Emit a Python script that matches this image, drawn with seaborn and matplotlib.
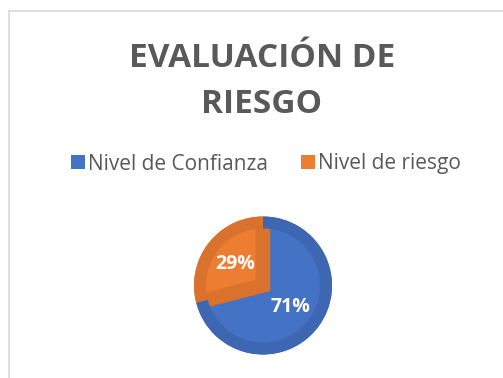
import matplotlib
matplotlib.use("Agg")
import matplotlib.pyplot as plt
from matplotlib.patches import Patch, Rectangle
import seaborn as sns

# Data
categories = ["Nivel de Confianza", "Nivel de riesgo"]
values = [71, 29]
title_lines = ["EVALUACIÓN DE", "RIESGO"]

# Face colours and darker rim colours for the bevelled look
face_colors = ["#4472C4", "#ED7D31"]
rim_colors = ["#3D67B3", "#D9722D"]
text_gray = "#595959"

sns.set_theme(style="white")
plt.rcParams["font.family"] = ["Open Sans", "DejaVu Sans"]

W, H = 503, 378
DPI = 100
fig = plt.figure(figsize=(W / DPI, H / DPI), dpi=DPI)
fig.patch.set_facecolor("white")


def fx(px):
    return px / W


def fy(py):
    return 1 - py / H


# Chart-area border (top and left visible)
fig.patches.append(Rectangle((fx(9), fy(11) - 2), 2, 2, transform=fig.transFigure,
                             fill=False, edgecolor="#D9D9D9", linewidth=1.2))

# Title
fig.text(fx(262), fy(67), title_lines[0], ha="center", va="baseline",
         fontsize=24, fontweight="bold", color=text_gray)
fig.text(fx(262), fy(113), title_lines[1], ha="center", va="baseline",
         fontsize=24, fontweight="bold", color=text_gray)

# Legend
handles = [Patch(facecolor=c, edgecolor="none") for c in face_colors]
fig.legend(handles, categories, loc="center", bbox_to_anchor=(fx(266), fy(164)),
           ncol=2, frameon=False, fontsize=15, labelcolor=text_gray,
           handlelength=0.65, handleheight=0.65, handletextpad=0.15,
           columnspacing=1.6, borderaxespad=0)

# Pie
cx, cy, R = 263, 285.5, 69
box = 90
ax = fig.add_axes([fx(cx - box), fy(cy + box), 2 * box / W, 2 * box / H])
lim = box / R
rim = 12 / R
common = dict(startangle=90, counterclock=False)

# Light faces, inset along the radial edges by a thick rim-coloured stroke
wedges, texts, autotexts = ax.pie(
    values, colors=face_colors, radius=1, autopct="%1.0f%%", pctdistance=0.51,
    textprops=dict(color="white", fontsize=14, fontweight="bold"),
    wedgeprops=dict(linewidth=10.5, joinstyle="miter"), **common)
for w, ec in zip(wedges, rim_colors):
    w.set_edgecolor(ec)

# Hide the stroke that spills past the disc (one seamless ring)
ax.pie([1], colors=["white"], radius=1.3,
       wedgeprops=dict(width=0.3, linewidth=0), startangle=90)

# Darker outer rim
ax.pie(values, colors=rim_colors, radius=1,
       wedgeprops=dict(width=rim, linewidth=0), **common)

for t in autotexts:
    t.set_zorder(10)

ax.set_xlim(-lim, lim)
ax.set_ylim(-lim, lim)
ax.set_aspect("equal")
ax.axis("off")

fig.savefig("out.png", dpi=DPI, facecolor="white")
